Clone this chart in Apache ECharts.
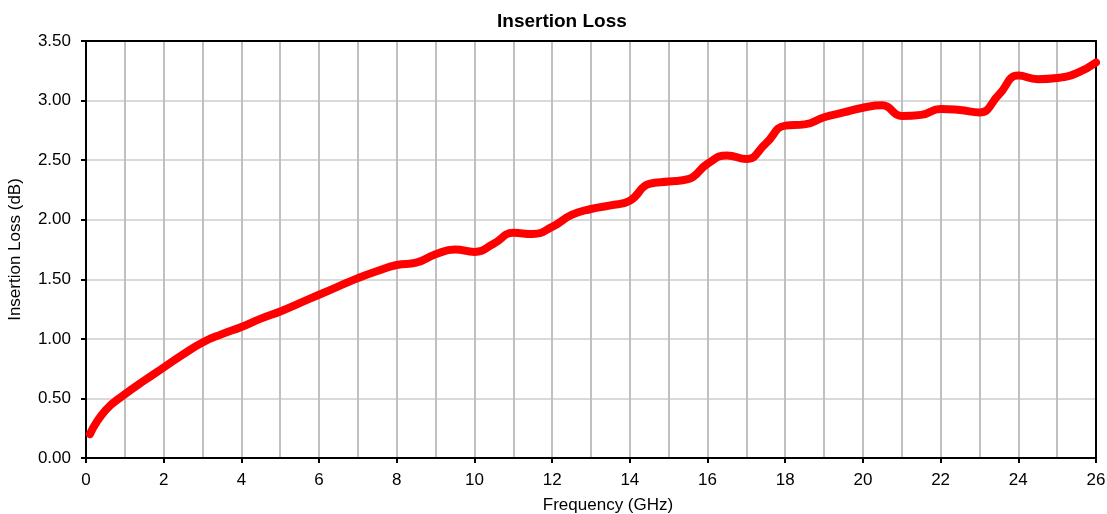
<!DOCTYPE html>
<html>
<head>
<meta charset="utf-8">
<script src="https://cdn.jsdelivr.net/npm/echarts@6/dist/echarts.min.js"></script>
<style>
  html, body { margin: 0; padding: 0; background: #fff; }
  #chart { width: 1107px; height: 514px; }
</style>
</head>
<body>
<div id="chart"></div>
<script>
// frequency points (GHz) and insertion loss (dB)
const freq = [0.1, 0.5, 1, 1.5, 2, 2.5, 3, 3.5, 4, 4.5, 5, 5.5, 6, 6.5, 7, 7.5, 8, 8.5, 9, 9.5,
  10, 10.5, 11, 11.5, 12, 12.5, 13, 13.5, 14, 14.5, 15, 15.5, 16, 16.5, 17, 17.5, 18, 18.5,
  19, 19.5, 20, 20.5, 21, 21.5, 22, 22.5, 23, 23.5, 24, 24.5, 25, 25.5, 26]
const loss = [0.20, 0.40, 0.535, 0.65, 0.76, 0.87, 0.97, 1.04, 1.10, 1.17, 1.23, 1.30, 1.37, 1.44, 1.51, 1.57, 1.62, 1.64, 1.71, 1.75,
  1.73, 1.80, 1.89, 1.88, 1.94, 2.04, 2.09, 2.12, 2.16, 2.30, 2.32, 2.34, 2.47, 2.54, 2.51, 2.64, 2.79, 2.80,
  2.86, 2.90, 2.94, 2.96, 2.87, 2.88, 2.93, 2.92, 2.90, 3.05, 3.21, 3.18, 3.19, 3.23, 3.32]

const chart = echarts.init(document.getElementById('chart'))
const font = 'Liberation Sans, Arial, sans-serif'

// top / right axes only draw the black frame of the plot
const frameAxis = {
  axisLine: { show: true, onZero: false, lineStyle: { color: '#000', width: 2 } },
  axisTick: { show: false },
  axisLabel: { show: false },
  splitLine: { show: false }
}

chart.setOption({
  animation: false,
  title: {
    text: 'Insertion Loss',
    left: 492,
    top: 7,
    textStyle: { fontFamily: font, fontSize: 19, fontWeight: 'bold', color: '#000' }
  },
  grid: {
    left: 86,
    right: 11,
    top: 41,
    bottom: 56,
    outerBoundsMode: 'none'
  },
  xAxis: [
    {
      type: 'value',
      min: 0,
      max: 26,
      interval: 2,
      name: 'Frequency (GHz)',
      nameLocation: 'middle',
      nameGap: 39,
      nameTextStyle: { fontFamily: font, fontSize: 17, color: '#000', padding: [0, 0, 0, 34] },
      axisLine: { onZero: false, lineStyle: { color: '#000', width: 2 } },
      axisTick: { show: true, length: 5, lineStyle: { color: '#000', width: 2 } },
      axisLabel: { fontFamily: font, fontSize: 17, color: '#000', margin: 14 },
      splitLine: { show: true, lineStyle: { color: '#c0c0c0', width: 2 } },
      minorTick: { show: false, splitNumber: 2 },
      minorSplitLine: { show: true, lineStyle: { color: '#c0c0c0', width: 2 } }
    },
    Object.assign({ type: 'value', position: 'top', min: 0, max: 26 }, frameAxis)
  ],
  yAxis: [
    {
      type: 'value',
      min: 0,
      max: 3.5,
      interval: 0.5,
      name: 'Insertion Loss (dB)',
      nameLocation: 'middle',
      nameGap: 62,
      nameTextStyle: { fontFamily: font, fontSize: 17, color: '#000' },
      axisLine: { show: true, onZero: false, lineStyle: { color: '#000', width: 2 } },
      axisTick: { show: true, length: 5, lineStyle: { color: '#000', width: 2 } },
      axisLabel: {
        fontFamily: font, fontSize: 17, color: '#000', margin: 15,
        formatter: v => v.toFixed(2)
      },
      splitLine: { show: true, lineStyle: { color: '#d9d9d9', width: 2 } }
    },
    Object.assign({ type: 'value', position: 'right', min: 0, max: 3.5 }, frameAxis)
  ],
  series: [
    {
      name: 'Insertion Loss',
      type: 'line',
      data: freq.map((f, i) => [f, loss[i]]),
      smooth: 0.5,
      symbol: 'none',
      lineStyle: { color: '#ff0000', width: 8, cap: 'round', join: 'round' }
    }
  ]
})
</script>
</body>
</html>
